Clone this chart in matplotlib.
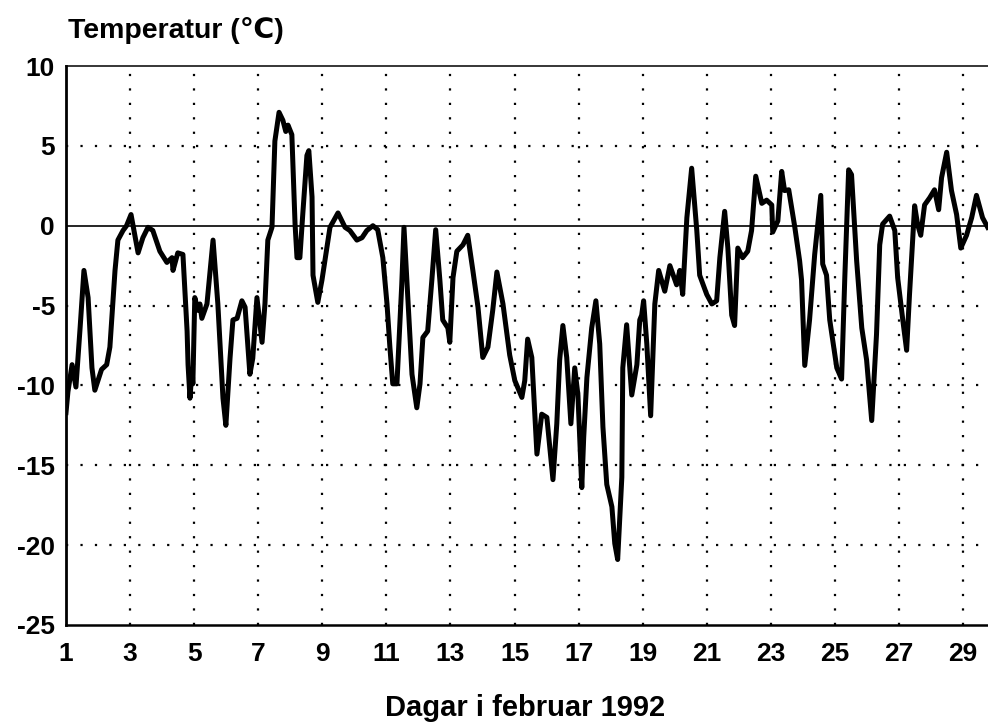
import matplotlib
matplotlib.use('Agg')
import matplotlib.pyplot as plt

# Temperature trace, February 1992
days = [1.00, 1.06, 1.19, 1.31, 1.44, 1.56, 1.69, 1.81, 1.90, 2.11, 2.27, 2.37, 2.53, 2.62, 2.78, 2.89,
        3.03, 3.25, 3.40, 3.56, 3.71, 3.93, 4.15, 4.31, 4.34, 4.49, 4.65, 4.78, 4.81, 4.87, 4.93, 4.96,
        5.02, 5.12, 5.18, 5.24, 5.40, 5.59, 5.74, 5.90, 5.99, 6.12, 6.21, 6.34, 6.49, 6.59, 6.74, 6.83,
        6.96, 7.12, 7.21, 7.30, 7.43, 7.52, 7.65, 7.77, 7.86, 7.93, 8.05, 8.15, 8.21, 8.30, 8.39, 8.52,
        8.58, 8.68, 8.71, 8.86, 8.99, 9.14, 9.24, 9.49, 9.71, 9.86, 10.08, 10.24, 10.39, 10.58, 10.73,
        10.89, 11.02, 11.11, 11.20, 11.33, 11.48, 11.55, 11.67, 11.80, 11.95, 12.05, 12.14, 12.29,
        12.42, 12.54, 12.67, 12.76, 12.92, 12.98, 13.08, 13.20, 13.39, 13.54, 13.70, 13.86, 14.01,
        14.17, 14.32, 14.45, 14.64, 14.85, 15.01, 15.23, 15.32, 15.41, 15.54, 15.70, 15.85, 16.01,
        16.20, 16.32, 16.41, 16.51, 16.63, 16.76, 16.88, 16.98, 17.10, 17.16, 17.26, 17.41, 17.54,
        17.66, 17.76, 17.88, 18.04, 18.13, 18.22, 18.35, 18.38, 18.50, 18.66, 18.82, 18.91, 18.97,
        19.03, 19.13, 19.25, 19.38, 19.50, 19.69, 19.85, 20.06, 20.16, 20.25, 20.38, 20.53, 20.69,
        20.78, 21.00, 21.16, 21.31, 21.41, 21.56, 21.66, 21.78, 21.87, 21.97, 22.12, 22.28, 22.40,
        22.53, 22.72, 22.87, 23.03, 23.06, 23.22, 23.34, 23.43, 23.56, 23.75, 23.90, 23.96, 24.06,
        24.21, 24.37, 24.56, 24.62, 24.74, 24.84, 25.06, 25.21, 25.31, 25.43, 25.52, 25.68, 25.84,
        25.99, 26.15, 26.30, 26.40, 26.49, 26.71, 26.87, 26.96, 27.12, 27.24, 27.33, 27.49, 27.58,
        27.68, 27.80, 27.96, 28.11, 28.24, 28.33, 28.49, 28.64, 28.80, 28.93, 29.11, 29.27, 29.42,
        29.61, 29.77]
temps = [-11.7, -10.4, -8.7, -10.1, -6.4, -2.8, -4.5, -8.9, -10.3, -9.0, -8.7, -7.6, -2.8, -0.9, -0.3, 0.0,
         0.7, -1.7, -0.75, -0.1, -0.3, -1.6, -2.3, -2.0, -2.8, -1.7, -1.8, -6.6, -8.7, -10.8, -9.1, -9.9,
         -4.5, -5.3, -4.9, -5.8, -4.9, -0.9, -4.9, -10.8, -12.5, -8.3, -5.9, -5.8, -4.7, -5.1, -9.3, -8.3,
         -4.5, -7.3, -4.9, -0.9, -0.1, 5.3, 7.1, 6.6, 5.9, 6.3, 5.7, 0.1, -2.0, -2.0, 0.7, 4.4,
         4.7, 1.8, -3.1, -4.8, -3.4, -1.4, -0.1, 0.8, -0.1, -0.3, -0.9, -0.75, -0.3, 0.0, -0.25,
         -2.0, -4.9, -7.6, -9.9, -9.9, -3.7, -0.1, -4.5, -9.3, -11.4, -9.9, -7.0, -6.6,
         -3.4, -0.25, -3.4, -5.9, -6.4, -7.3, -3.25, -1.6, -1.2, -0.6, -2.8, -5.1, -8.25,
         -7.6, -5.3, -2.9, -4.9, -8.1, -9.7, -10.75, -9.7, -7.1, -8.25, -14.3, -11.8, -12.0,
         -15.9, -12.4, -8.4, -6.25, -8.25, -12.4, -8.9, -10.6, -16.4, -13.25, -9.5, -6.4, -4.7,
         -7.4, -12.6, -16.2, -17.6, -19.9, -20.9, -15.75, -8.9, -6.2, -10.6, -8.7, -5.9, -5.6,
         -4.7, -7.4, -11.9, -4.9, -2.8, -4.1, -2.5, -3.7, -2.8, -4.3, 0.5, 3.6, -0.3,
         -3.1, -4.3, -4.9, -4.7, -2.0, 0.9, -1.4, -5.6, -6.25, -1.4, -2.0, -1.6, -0.3,
         3.1, 1.4, 1.6, 1.3, -0.4, 0.3, 3.4, 2.2, 2.25, -0.1, -2.2, -3.4, -8.75,
         -5.9, -1.8, 1.9, -2.4, -3.1, -5.9, -8.9, -9.6, -3.25, 3.5, 3.2, -2.2, -6.4,
         -8.4, -12.2, -6.8, -1.2, 0.1, 0.6, -0.3, -3.25, -5.9, -7.8, -4.3, 1.25, 0.1,
         -0.6, 1.3, 1.75, 2.25, 1.0, 3.0, 4.6, 2.2, 0.7, -1.4, -0.6, 0.5, 1.9,
         0.5, -0.1]

x_ticks = list(range(1, 30, 2))
y_ticks = [-25, -20, -15, -10, -5, 0, 5, 10]

plt.rcParams['font.family'] = ['Liberation Sans', 'DejaVu Sans']
plt.rcParams['axes.unicode_minus'] = False

fig = plt.figure(figsize=(9.88, 7.24), dpi=100)
ax = fig.add_axes([66 / 988, 1 - 625 / 724, 1 - 66 / 988, (625 - 66) / 724])

# dotted grid, solid zero line
for xv in x_ticks[1:]:
    ax.axvline(xv, color='black', lw=1.6, linestyle=(0, (1, 5.5)), zorder=1)
for yv in [-20, -15, -10, -5, 5]:
    ax.axhline(yv, color='black', lw=1.6, linestyle=(0, (1, 5.5)), zorder=1)
ax.axhline(0, color='black', lw=1.2, zorder=1)

ax.plot(days, temps, color='black', lw=3.6, solid_joinstyle='round', zorder=3)

ax.set_xlim(1, 29.78)
ax.set_ylim(-25, 10)
ax.set_xticks(x_ticks)
ax.set_yticks(y_ticks)
ax.tick_params(axis='both', length=0, labelsize=19)
ax.tick_params(axis='x', pad=12)
ax.tick_params(axis='y', pad=8)
for lab in ax.get_xticklabels() + ax.get_yticklabels():
    lab.set_fontweight('bold')

ax.spines['right'].set_visible(False)
ax.spines['left'].set_linewidth(2.0)
ax.spines['bottom'].set_linewidth(1.8)
ax.spines['top'].set_linewidth(1.1)

fig.text(68 / 988, 1 - 31 / 724, 'Temperatur (\u2103)', fontsize=20.5, fontweight='bold',
         ha='left', va='center')
fig.text(525 / 988, 1 - 708 / 724, 'Dagar i februar 1992', fontsize=21, fontweight='bold',
         ha='center', va='center')

fig.savefig('out.png', dpi=100)
